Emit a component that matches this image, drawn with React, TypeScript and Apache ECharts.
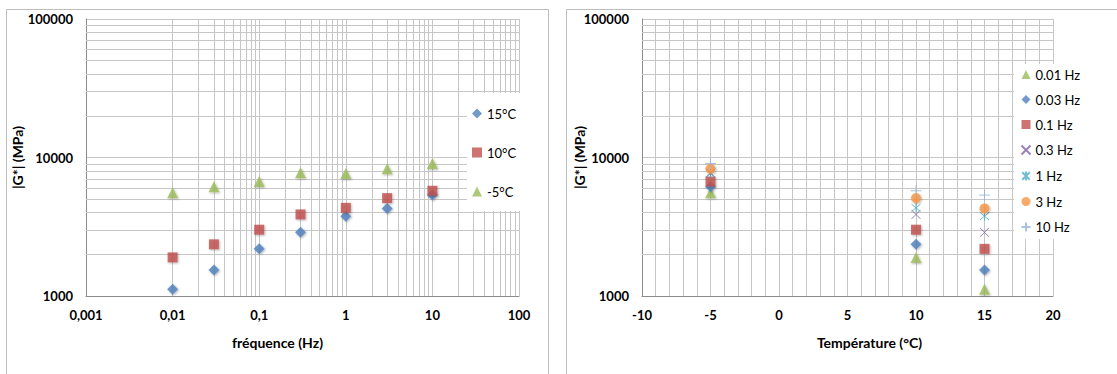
import React, { useEffect, useRef } from "react";
import * as echarts from "echarts";

// ---- data ----
const frequencies = [0.01, 0.03, 0.1, 0.3, 1, 3, 10];
const frequencyNames = ["0.01 Hz", "0.03 Hz", "0.1 Hz", "0.3 Hz", "1 Hz", "3 Hz", "10 Hz"];
const temperatures = [-5, 10, 15];
const temperatureNames = ["-5°C", "10°C", "15°C"];
// |G*| (MPa) per frequency, for each temperature
const modulusMinus5 = [5560, 6140, 6710, 7750, 7670, 8280, 9050];
const modulus10 = [1900, 2360, 3010, 3880, 4330, 5090, 5750];
const modulus15 = [1117, 1540, 2190, 2880, 3770, 4290, 5350];
const freqAxisRange = [0.001, 100];
const tempAxisRange = [-10, 20];
const modulusAxisRange = [1000, 100000];

const modulusByTemp = [modulusMinus5, modulus10, modulus15];

const FONT = "Lato";
const GRID = "#c6c6c6";
const AXIS = "#8c8c8c";

const X_PATH = "path://M0 0L10 10M10 0L0 10";
const STAR_PATH = "path://M0 0L10 10M10 0L0 10M5 -1L5 11";
const PLUS_PATH = "path://M5 0L5 10M0 5L10 5";

const shadow = { shadowBlur: 2, shadowColor: "rgba(0,0,0,0.35)", shadowOffsetX: 1, shadowOffsetY: 1 };

const leftStyles: Record<string, any> = {
  "15°C": { symbol: "diamond", size: 11, color: "#4f81bd" },
  "10°C": { symbol: "rect", size: 10, color: "#c0504d" },
  "-5°C": { symbol: "triangle", size: 11, color: "#9bbb59" },
};
const rightStyles = [
  { symbol: "triangle", size: 11, color: "#9bbb59", line: false },
  { symbol: "diamond", size: 11, color: "#4f81bd", line: false },
  { symbol: "rect", size: 10, color: "#c0504d", line: false },
  { symbol: X_PATH, size: 9, color: "#8064a2", line: true },
  { symbol: STAR_PATH, size: 9, color: "#4bacc6", line: true },
  { symbol: "circle", size: 10, color: "#f79646", line: false },
  { symbol: PLUS_PATH, size: 11, color: "#95b3d7", line: true },
];

function minorLogValues(lo: number, hi: number) {
  const out: number[] = [];
  for (let d = lo; d < hi; d *= 10) for (let k = 2; k <= 9; k++) out.push(+(d * k).toPrecision(6));
  return out;
}

export default function App() {
  const ref = useRef<HTMLDivElement>(null);
  useEffect(() => {
    if (!ref.current) return;
    const chart = echarts.init(ref.current, undefined, { renderer: "svg" });

    const tickLabel = { color: "#000", fontWeight: "bold", fontSize: 13, fontFamily: FONT };
    const nameStyle = { color: "#000", fontWeight: "bold", fontSize: 14, fontFamily: FONT };

    const series: any[] = [];
    ["15°C", "10°C", "-5°C"].forEach((name) => {
      const ti = temperatureNames.indexOf(name);
      const st = leftStyles[name];
      series.push({
        type: "scatter",
        name,
        xAxisIndex: 0,
        yAxisIndex: 0,
        symbol: st.symbol,
        symbolSize: st.size,
        itemStyle: { color: st.color, ...shadow },
        data: frequencies.map((f, i) => [f, modulusByTemp[ti][i]]),
        z: 3,
      });
    });
    frequencyNames.forEach((name, fi) => {
      const st = rightStyles[fi];
      series.push({
        type: "scatter",
        name,
        xAxisIndex: 1,
        yAxisIndex: 1,
        symbol: st.symbol,
        symbolSize: st.size,
        itemStyle: st.line
          ? { color: "none", borderColor: st.color, borderWidth: 1 }
          : { color: st.color, ...shadow },
        data: temperatures.map((t, ti) => [t, modulusByTemp[ti][fi]]),
        z: 3,
      });
    });
    const ml = (xi: number, extra: any[]) => ({
      type: "scatter",
      name: "grid" + xi,
      xAxisIndex: xi,
      yAxisIndex: xi,
      data: [],
      silent: true,
      markLine: {
        silent: true,
        symbol: "none",
        animation: false,
        z: 1,
        label: { show: false },
        lineStyle: { color: GRID, width: 1, type: "solid" },
        data: [
          ...minorLogValues(modulusAxisRange[0], modulusAxisRange[1]).map((v) => ({ yAxis: v })),
          ...extra,
        ],
      },
    });
    series.push(ml(0, minorLogValues(freqAxisRange[0], freqAxisRange[1]).map((v) => ({ xAxis: v }))));
    series.push(ml(1, []));

    const yAxisBase = (name: string, gap: number, gi: number) => ({
      type: "log",
      logBase: 10,
      gridIndex: gi,
      min: modulusAxisRange[0],
      max: modulusAxisRange[1],
      name,
      nameLocation: "middle",
      nameGap: gap,
      nameMoveOverlap: false,
      nameTextStyle: nameStyle,
      axisLine: { show: true, onZero: false, lineStyle: { color: AXIS } },
      axisTick: { show: false },
      axisLabel: { ...tickLabel, margin: 13, formatter: (v: number) => String(Math.round(v)) },
      splitLine: { show: true, lineStyle: { color: GRID } },
      minorTick: { show: false },
      minorSplitLine: { show: false },
    });

    chart.setOption({
      animation: false,
      textStyle: { fontFamily: FONT },
      grid: [
        { left: 86, top: 19, width: 433, height: 277, containLabel: false },
        { left: 642, top: 19, width: 411, height: 277, containLabel: false },
      ],
      xAxis: [
        {
          type: "log",
          logBase: 10,
          gridIndex: 0,
          min: freqAxisRange[0],
          max: freqAxisRange[1],
          name: "fréquence (Hz)",
          nameLocation: "middle",
          nameGap: 39,
          nameMoveOverlap: false,
          nameTextStyle: { ...nameStyle, padding: [0, 50, 0, 0] },
          axisLine: { show: true, onZero: false, lineStyle: { color: AXIS } },
          axisTick: { show: false },
          axisLabel: { ...tickLabel, margin: 12, formatter: (v: number) => String(v).replace(".", ",") },
          splitLine: { show: true, lineStyle: { color: GRID } },
        },
        {
          type: "value",
          gridIndex: 1,
          min: tempAxisRange[0],
          max: tempAxisRange[1],
          interval: 5,
          name: "Température (°C)",
          nameLocation: "middle",
          nameGap: 39,
          nameMoveOverlap: false,
          nameTextStyle: { ...nameStyle, padding: [0, 0, 0, 44] },
          axisLine: { show: true, onZero: false, lineStyle: { color: AXIS } },
          axisTick: { show: false },
          axisLabel: { ...tickLabel, margin: 12 },
          splitLine: { show: true, lineStyle: { color: GRID } },
          minorTick: { show: false, splitNumber: 5 },
          minorSplitLine: { show: true, lineStyle: { color: GRID } },
        },
      ],
      yAxis: [yAxisBase("|G*| (MPa)", 62, 0), yAxisBase("|G*| (MPa)", 56, 1)],
      legend: [
        {
          data: ["15°C", "10°C", "-5°C"],
          orient: "vertical",
          left: 467,
          top: 93,
          padding: [14, 4, 13, 5],
          itemGap: 26,
          itemWidth: 10,
          itemHeight: 10,
          backgroundColor: "#fff",
          textStyle: { fontSize: 13, fontFamily: FONT, color: "#000" },
        },
        {
          data: frequencyNames,
          orient: "vertical",
          left: 1014,
          top: 64,
          padding: [4, 4, 5, 5],
          itemGap: 12,
          itemWidth: 9,
          itemHeight: 9,
          backgroundColor: "#fff",
          textStyle: { fontSize: 13, fontFamily: FONT, color: "#000" },
        },
      ],
      graphic: [
        { type: "rect", silent: true, z: -10, shape: { x: 6.5, y: 9.5, width: 542, height: 400 }, style: { fill: "none", stroke: "#bdbdbd", lineWidth: 1 } },
        { type: "rect", silent: true, z: -10, shape: { x: 566.5, y: 9.5, width: 600, height: 400 }, style: { fill: "none", stroke: "#bdbdbd", lineWidth: 1 } },
      ],
      series,
    });
    return () => chart.dispose();
  }, []);
  return <div ref={ref} style={{ position: "absolute", left: 0, top: 0, width: 1117, height: 374, background: "#fff" }} />;
}
